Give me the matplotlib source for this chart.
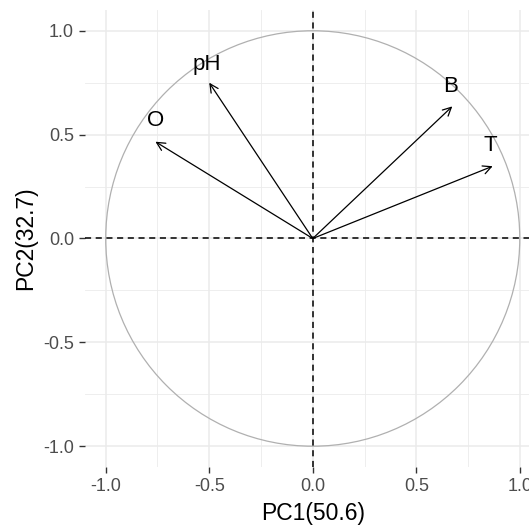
import matplotlib
matplotlib.use("Agg")
import matplotlib.pyplot as plt
from matplotlib.patches import Circle

plt.rcParams['font.family'] = ['Liberation Sans', 'DejaVu Sans']

# loadings
variables = ['pH', 'O', 'B', 'T']
pc1 = [-0.50, -0.76, 0.674, 0.869]
pc2 = [0.75, 0.466, 0.636, 0.348]
label_x = [-0.51, -0.76, 0.666, 0.856]
label_y = [0.84, 0.57, 0.73, 0.45]

ticks = [-1.0, -0.5, 0.0, 0.5, 1.0]
minor_ticks = [-0.75, -0.25, 0.25, 0.75]

fig = plt.figure(figsize=(5.29, 5.26), dpi=100)
ax = fig.add_axes([0.1607, 0.1122, 0.861, 0.8688])

ax.set_xlim(-1.1, 1.1)
ax.set_ylim(-1.1, 1.1)

grid_c = '#EBEBEB'
ax.set_xticks(ticks)
ax.set_yticks(ticks)
ax.set_xticks(minor_ticks, minor=True)
ax.set_yticks(minor_ticks, minor=True)
ax.grid(which='major', color=grid_c, linewidth=1.1)
ax.grid(which='minor', color=grid_c, linewidth=0.6)
ax.set_axisbelow(True)

for s in ax.spines.values():
    s.set_visible(False)

ax.tick_params(which='major', length=4, width=1.0, color='#333333',
               labelcolor='#4D4D4D', labelsize=13)
ax.tick_params(axis='y', pad=4)
ax.tick_params(axis='x', pad=4)
ax.tick_params(which='minor', length=0)
ax.set_xticklabels(['-1.0', '-0.5', '0.0', '0.5', '1.0'])
ax.set_yticklabels(['-1.0', '-0.5', '0.0', '0.5', '1.0'])

circ = Circle((0, 0), 1.0, fill=False, edgecolor='#B0B0B0', linewidth=0.9)
ax.add_patch(circ)

ax.axhline(0, color='black', linestyle=(0, (4, 3)), linewidth=1.1)
ax.axvline(0, color='black', linestyle=(0, (4, 3)), linewidth=1.1)

for i in range(len(variables)):
    ax.annotate('', xy=(pc1[i], pc2[i]), xytext=(0, 0),
                arrowprops=dict(arrowstyle='->', color='black', lw=0.9,
                                shrinkA=0, shrinkB=0, mutation_scale=15))
    ax.text(label_x[i], label_y[i], variables[i], fontsize=16,
            ha='center', va='center', color='black')

ax.set_xlabel('PC1(50.6)', fontsize=16.5, labelpad=5)
ax.set_ylabel('PC2(32.7)', fontsize=16.5, labelpad=4)

fig.savefig('out.png', dpi=100)
